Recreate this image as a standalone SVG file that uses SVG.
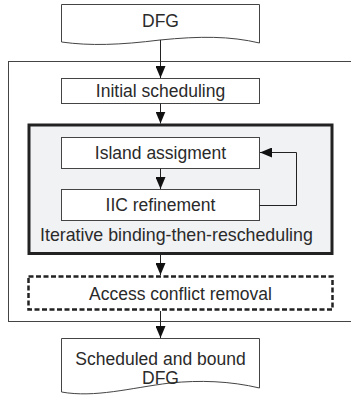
<svg xmlns="http://www.w3.org/2000/svg" width="351" height="395" viewBox="0 0 351 395">
  <style>
    .box { fill: #ffffff; stroke: #444444; stroke-width: 1; }
    .doc { fill: #ffffff; stroke: #444444; stroke-width: 1; }
    .frame { fill: none; stroke: #444444; stroke-width: 1; }
    .group { fill: #f1f2f4; stroke: #222222; stroke-width: 3; }
    .dashed { fill: #ffffff; stroke: #222222; stroke-width: 2.5; stroke-dasharray: 5 2.5; }
    .wire { fill: none; stroke: #222222; stroke-width: 1; }
    text { font-family: "Liberation Sans", Arial, sans-serif; font-size: 17.5px; fill: #2a2a2a; }
    .c { text-anchor: middle; }
  </style>
  <defs>
    <marker id="arrow" viewBox="0 0 12 10" refX="12" refY="5" markerWidth="12" markerHeight="10" markerUnits="userSpaceOnUse" orient="auto">
      <path d="M0,0 L12,5 L0,10 Z" fill="#111111"/>
    </marker>
  </defs>

  <!-- outer frame around the scheduling flow -->
  <rect class="frame" x="8.5" y="61.5" width="360" height="260"/>

  <g id="dfg-in">
    <path class="doc" d="M61.5,4.5 H259.5 V43 C230,36 200,36 160,40 C120,45 90,46 61.5,42 Z"/>
    <text class="c" x="160.5" y="27">DFG</text>
  </g>

  <g id="initial-scheduling">
    <rect class="box" x="61.5" y="78.5" width="198" height="25"/>
    <text class="c" x="160.5" y="97">Initial scheduling</text>
  </g>

  <g id="iterative-binding">
    <rect class="group" x="29" y="125" width="303" height="128.5"/>
    <text x="40" y="241" style="font-size:17.8px">Iterative binding-then-rescheduling</text>
  </g>

  <g id="island-assignment">
    <rect class="box" x="61.5" y="137.5" width="198" height="31"/>
    <text class="c" x="160.5" y="159">Island assigment</text>
  </g>

  <g id="iic-refinement">
    <rect class="box" x="61.5" y="189.5" width="198" height="31"/>
    <text class="c" x="160.5" y="211">IIC refinement</text>
  </g>

  <g id="access-conflict-removal">
    <rect class="dashed" x="28.5" y="276.5" width="304" height="33"/>
    <text class="c" x="180.5" y="300">Access conflict removal</text>
  </g>

  <g id="dfg-out">
    <path class="doc" d="M61.5,338.5 H259.5 V388 C230,381 200,380 170,383 C130,388 95,398 61.5,392 Z"/>
    <text class="c" x="160.5" y="365">Scheduled and bound</text>
    <text class="c" x="160.5" y="384">DFG</text>
  </g>

  <g id="connectors">
    <line class="wire" x1="160.5" y1="40" x2="160.5" y2="78" marker-end="url(#arrow)"/>
    <line class="wire" x1="160.5" y1="103.5" x2="160.5" y2="123.5" marker-end="url(#arrow)"/>
    <line class="wire" x1="160.5" y1="168.5" x2="160.5" y2="189" marker-end="url(#arrow)"/>
    <polyline class="wire" points="259.5,205.5 296.5,205.5 296.5,152.5 260,152.5" marker-end="url(#arrow)"/>
    <line class="wire" x1="160.5" y1="255" x2="160.5" y2="275" marker-end="url(#arrow)"/>
    <line class="wire" x1="160.5" y1="311" x2="160.5" y2="338" marker-end="url(#arrow)"/>
  </g>
</svg>
